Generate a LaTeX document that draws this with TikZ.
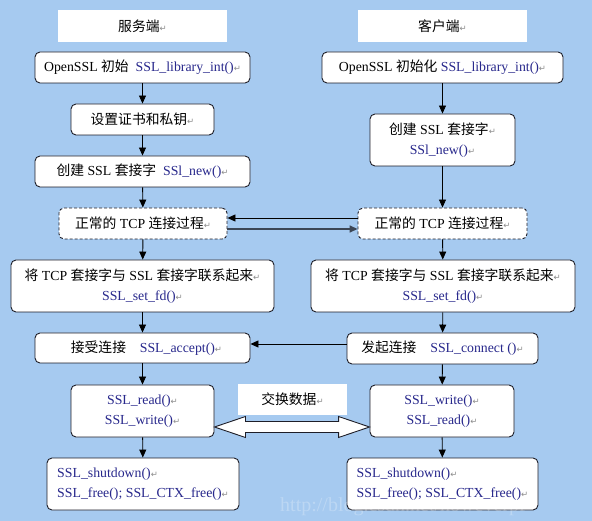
\documentclass[tikz,border=0pt]{standalone}
\usepackage{fontspec}
\setmainfont{Liberation Serif}
\newfontfamily\cjk{Noto Sans CJK SC}
\newfontfamily\retfont{DejaVu Sans}
\usetikzlibrary{arrows.meta,calc}
\definecolor{bgblue}{RGB}{166,202,240}
\definecolor{fnblue}{RGB}{40,40,140}
\definecolor{edgecol}{RGB}{30,30,40}
\definecolor{retgray}{RGB}{140,140,140}
\definecolor{slateline}{RGB}{60,70,85}
\newcommand\retmark{{\retfont\fontsize{8.5}{8.5}\selectfont\textcolor{retgray}{↵}}}
\newcommand\fnc[1]{\textcolor{fnblue}{#1}}
\newcommand\zh[1]{{\cjk #1}}
\tikzset{
  box/.style={draw=edgecol, line width=0.9pt, fill=white, rounded corners=5pt, inner sep=2pt, align=center, font=\fontsize{13.8}{20.5}\selectfont},
  dbox/.style={box, dashed, dash pattern=on 3pt off 2pt},
  titlebox/.style={fill=white, inner sep=0pt, align=center, font=\fontsize{13.8}{20.5}\selectfont},
  arr/.style={-{Triangle[length=8pt,width=7pt]}, line width=0.9pt, draw=black}
}
\begin{document}
\begin{tikzpicture}[x=1pt,y=-1pt]
\fill[bgblue] (0,0) rectangle (592,521);
\useasboundingbox (0,0) rectangle (592,521);
% left column
\node[titlebox, minimum width=169pt, minimum height=32pt] (lt) at (142.5,26) {\zh{服务端}\retmark};
\node[box, minimum width=215pt, minimum height=31pt] (l1) at (142.5,67.5) {OpenSSL \zh{初始}\ \ \fnc{SSL\_library\_int()}\retmark};
\node[box, minimum width=143pt, minimum height=31pt] (l2) at (142.5,119.5) {\zh{设置证书和私钥}\retmark};
\node[box, minimum width=215pt, minimum height=31pt] (l3) at (142.5,171.5) {\zh{创建} SSL \zh{套接字}\ \ \fnc{SSl\_new()}\retmark};
\node[dbox, minimum width=168pt, minimum height=31pt] (l4) at (143,223.5) {\zh{正常的} TCP \zh{连接过程}\retmark};
\node[box, minimum width=263pt, minimum height=52pt] (l5) at (142.5,286) {\zh{将} TCP \zh{套接字与} SSL \zh{套接字联系起来}\retmark\\ \fnc{SSL\_set\_fd()}\retmark};
\node[box, minimum width=215pt, minimum height=30pt] (l6) at (142.5,348) {\hspace*{8pt}\zh{接受连接}\ \ \ \ \fnc{SSL\_accept()}\retmark};
\node[box, minimum width=143pt, minimum height=52pt] (l7) at (142.5,411) {\fnc{SSL\_read()}\retmark\\ \fnc{SSL\_write()}\retmark};
\node[box, minimum width=192pt, minimum height=52pt, align=left] (l8) at (143,484) {\fnc{SSL\_shutdown()}\retmark\\ \fnc{SSL\_free(); SSL\_CTX\_free()}\retmark};
% right column
\node[titlebox, minimum width=169pt, minimum height=32pt] (rt) at (442.5,26) {\zh{客户端}\retmark};
\node[box, minimum width=241pt, minimum height=31pt] (r1) at (442.5,67.5) {OpenSSL \zh{初始化} \fnc{SSL\_library\_int()}\retmark};
\node[box, minimum width=145pt, minimum height=52pt] (r2) at (442.5,140) {\zh{创建} SSL \zh{套接字}\retmark\\ \fnc{SSl\_new()}\retmark};
\node[dbox, minimum width=169pt, minimum height=31pt] (r4) at (442.5,223.5) {\zh{正常的} TCP \zh{连接过程}\retmark};
\node[box, minimum width=264pt, minimum height=52pt] (r5) at (443,286) {\zh{将} TCP \zh{套接字与} SSL \zh{套接字联系起来}\retmark\\ \fnc{SSL\_set\_fd()}\retmark};
\node[box, minimum width=191pt, minimum height=31pt] (r6) at (442.5,348.5) {\zh{发起连接}\ \ \ \ \fnc{SSL\_connect ()}\retmark};
\node[box, minimum width=144pt, minimum height=52pt] (r7) at (442,411) {\fnc{SSL\_write()}\retmark\\ \fnc{SSL\_read()}\retmark};
\node[box, minimum width=191pt, minimum height=52pt, align=left] (r8) at (442.5,484) {\fnc{SSL\_shutdown()}\retmark\\ \fnc{SSL\_free(); SSL\_CTX\_free()}\retmark};
% vertical arrows
\draw[arr] (l1) -- (l2);
\draw[arr] (l2) -- (l3);
\draw[arr] (l3) -- (l4);
\draw[arr] (l4) -- (l5);
\draw[arr] (l5) -- (l6);
\draw[arr] (l6) -- (l7);
\draw[arr] (l7) -- (l8);
\draw[arr] (r1) -- (r2);
\draw[arr] (r2) -- (r4);
\draw[arr] (r4) -- (r5);
\draw[arr] (r5) -- (r6);
\draw[arr] (r6) -- (r7);
\draw[arr] (r7) -- (r8);
% horizontal arrows
\draw[arr] ([yshift=5.5pt]r4.west) -- ([yshift=5.5pt]l4.east);
\draw[arr, line width=1.6pt, draw=slateline] ([yshift=-5.5pt]l4.east) -- ([yshift=-5.5pt]r4.west);
\draw[arr] ([yshift=4.5pt]r6.west) -- ([yshift=4.5pt]r6.west -| l6.east);
% exchange double block arrow
\coordinate (dl) at ($(l7.east)+(0,16)$);
\coordinate (dr) at ($(r7.west)+(0,16)$);
\draw[draw=edgecol, line width=0.9pt, fill=white, line join=miter]
  (dl) -- ($(dl)+(31,-10.5)$) -- ($(dl)+(31,-5.5)$) -- ($(dr)+(-31,-5.5)$) -- ($(dr)+(-31,-10.5)$) -- (dr)
  -- ($(dr)+(-31,10.5)$) -- ($(dr)+(-31,5.5)$) -- ($(dl)+(31,5.5)$) -- ($(dl)+(31,10.5)$) -- cycle;
\node[titlebox, minimum width=109pt, minimum height=31pt] (ex) at (292.5,399.5) {\zh{交换数据}\retmark};
% watermark
\node[anchor=base west, inner sep=0pt, text=white, opacity=0.25, font=\fontsize{20}{20}\selectfont] (wm) at (280,511) {http://blog.csdn.net/howeverpf};
\end{tikzpicture}
\end{document}
